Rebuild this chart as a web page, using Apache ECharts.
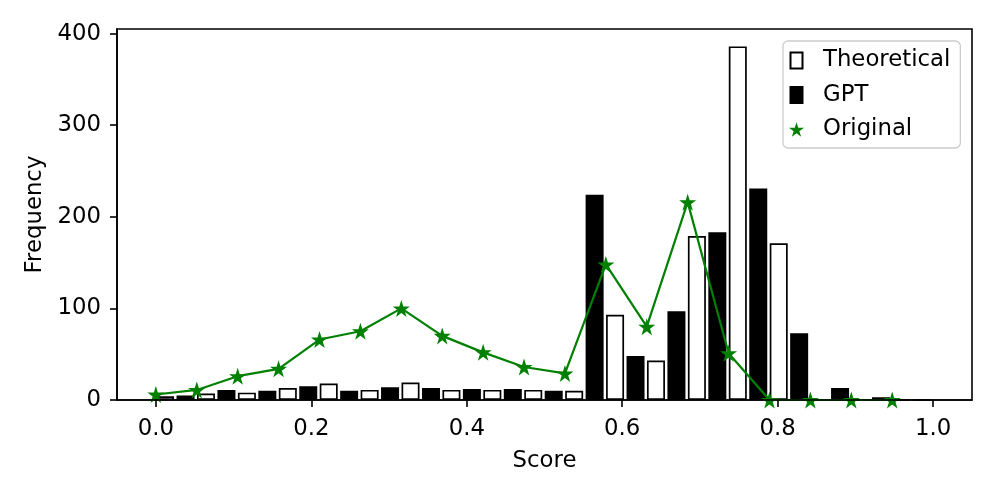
<!DOCTYPE html>
<html><head><meta charset="utf-8">
<script src="https://cdn.jsdelivr.net/npm/echarts@6/dist/echarts.min.js"></script>
<style>html,body{margin:0;padding:0;background:#fff}#c{width:997px;height:498px}</style>
</head><body><div id="c"></div>
<script>
// bins: 19 equal bins over [0, 1]
const binCount = 19;
const binLeft = Array.from({length: binCount}, (_, k) => k / binCount);
const theoretical = [4, 7, 8, 13, 18, 11, 19, 11, 11, 11, 10, 93, 43, 179, 386, 171, 0, 0, 0];
const gpt         = [5, 11, 10, 15, 10, 14, 13, 12, 12, 10, 224, 48, 97, 183, 231, 73, 13, 3, 0];
const original    = [6, 11, 26, 34, 66, 75, 100, 70, 52, 36, 29, 148, 80, 216, 51, 0, 0, 0, 0];
const xTicks = [0, 0.2, 0.4, 0.6, 0.8, 1.0];
const yTicks = [0, 100, 200, 300, 400];

const binW = 1 / binCount;
const theoData = binLeft.map((x, i) => [x + 0.225 * binW, theoretical[i]]);
const gptData  = binLeft.map((x, i) => [x + 0.725 * binW, gpt[i]]);
const origData = binLeft.map((x, i) => [x, original[i]]);

const star = 'path://M0,-1 L0.2245,-0.309 L0.9511,-0.309 L0.3633,0.118 L0.5878,0.809 L0,0.382 L-0.5878,0.809 L-0.3633,0.118 L-0.9511,-0.309 L-0.2245,-0.309 Z';
const rectIcon = 'path://M0,0 L12,0 L12,16 L0,16 Z';
const FONT = 'DejaVu Sans';
const FS = 22.8;

const chart = echarts.init(document.getElementById('c'), null, {renderer: 'canvas'});
chart.setOption({
  animation: false,
  backgroundColor: '#fff',
  textStyle: {fontFamily: FONT},
  grid: {left: 117, right: 25, top: 29, bottom: 98, show: true, borderColor: '#000', borderWidth: 1.6, backgroundColor: 'transparent'},
  xAxis: {
    type: 'value', min: -0.05, max: 1.05, z: 5,
    name: 'Score', nameLocation: 'middle', nameGap: 50,
    nameTextStyle: {fontFamily: FONT, fontSize: FS, color: '#000'},
    axisLine: {show: true, onZero: false, lineStyle: {color: '#000', width: 1.6}},
    axisTick: {show: true, length: 7, lineStyle: {color: '#000', width: 1.6}, customValues: xTicks},
    axisLabel: {fontFamily: FONT, fontSize: FS, color: '#000', margin: 18, customValues: xTicks,
      formatter: v => v.toFixed(1)},
    splitLine: {show: false}
  },
  yAxis: {
    type: 'value', min: 0, max: 405, z: 5,
    name: 'Frequency', nameLocation: 'middle', nameGap: 70, nameRotate: 90,
    nameTextStyle: {fontFamily: FONT, fontSize: FS, color: '#000'},
    axisLine: {show: true, onZero: false, lineStyle: {color: '#000', width: 1.6}},
    axisTick: {show: true, length: 7, lineStyle: {color: '#000', width: 1.6}, customValues: yTicks},
    axisLabel: {fontFamily: FONT, fontSize: FS, color: '#000', margin: 16, customValues: yTicks},
    splitLine: {show: false}
  },
  legend: {
    orient: 'vertical', left: 783, top: 41,
    padding: [8, 10, 7, 6],
    backgroundColor: 'rgba(255,255,255,0.8)', borderColor: '#cccccc', borderWidth: 1.3, borderRadius: 5,
    itemWidth: 15, itemHeight: 16, itemGap: 11.5,
    textStyle: {fontFamily: FONT, fontSize: FS, color: '#000', lineHeight: 22, padding: [0, 0, 0, 14]},
    data: [
      {name: 'Theoretical', icon: rectIcon},
      {name: 'GPT', icon: rectIcon},
      {name: 'Original', icon: star, itemStyle: {color: '#008000', borderWidth: 0}}
    ]
  },
  series: [
    {name: 'Theoretical', type: 'bar', data: theoData, barWidth: 18, barGap: '-100%',
      itemStyle: {color: '#fff', borderColor: '#000', borderWidth: 1.7}},
    {name: 'GPT', type: 'bar', data: gptData, barWidth: 18, barGap: '-100%',
      itemStyle: {color: '#000', borderColor: '#000', borderWidth: 1.7}},
    {name: 'Original', type: 'line', data: origData, symbol: star, symbolSize: 17,
      lineStyle: {color: '#008000', width: 2.2}, itemStyle: {color: '#008000'}, z: 4}
  ]
});
</script></body></html>
